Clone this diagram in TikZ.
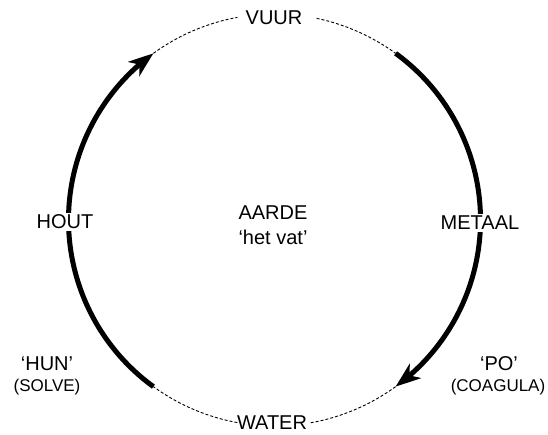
\documentclass[tikz,border=0pt]{standalone}
\usepackage{fontspec}
\setmainfont{Liberation Sans}
\usetikzlibrary{arrows.meta,bending}
\begin{document}
\begin{tikzpicture}[x=1pt,y=1pt,
  lbl/.style={inner sep=0pt,font=\fontsize{20}{24}\selectfont},
  sublbl/.style={inner sep=0pt,font=\fontsize{17}{20}\selectfont},
  heavy/.style={line width=5pt},
  thin dash/.style={line width=0.9pt,dash pattern=on 3pt off 2pt},
  bigarrow/.style={-{Stealth[length=25pt,width=18pt,inset=7pt]}}]
\useasboundingbox (0,0) rectangle (548,435);
\coordinate (c) at (274.5,215);
% thick arcs
\draw[heavy,bigarrow] (c) ++(54:206) arc[start angle=54,end angle=-54,radius=206];
\draw[heavy,bigarrow] (c) ++(-126:206) arc[start angle=-126,end angle=-234,radius=206];
% dashed arcs
\draw[thin dash] (c) ++(126:206) arc[start angle=126,end angle=100.4,radius=206];
\draw[thin dash] (c) ++(78.2:206) arc[start angle=78.2,end angle=54,radius=206];
\draw[thin dash] (c) ++(-54:206) arc[start angle=-54,end angle=-80.2,radius=206];
\draw[thin dash] (c) ++(-100.4:206) arc[start angle=-100.4,end angle=-126,radius=206];
% labels
\node[lbl] (vuur) at (274,417) {VUUR};
\node[lbl] (water) at (272,12) {WATER};
\node[lbl,fill=white,inner xsep=0pt,inner ysep=2pt] (hout) at (65,213) {HOUT};
\node[lbl,fill=white,inner xsep=0pt,inner ysep=2pt] (metaal) at (480,212) {METAAL};
\node[lbl] (aarde) at (273,222) {AARDE};
\node[lbl] (vat) at (273,198) {‘het vat’};
\node[lbl] (hun) at (47,71) {‘HUN’};
\node[sublbl] (solve) at (47,48) {(SOLVE)};
\node[lbl] (po) at (499,71) {‘PO’};
\node[sublbl] (coagula) at (498,48) {(COAGULA)};
\end{tikzpicture}
\end{document}
